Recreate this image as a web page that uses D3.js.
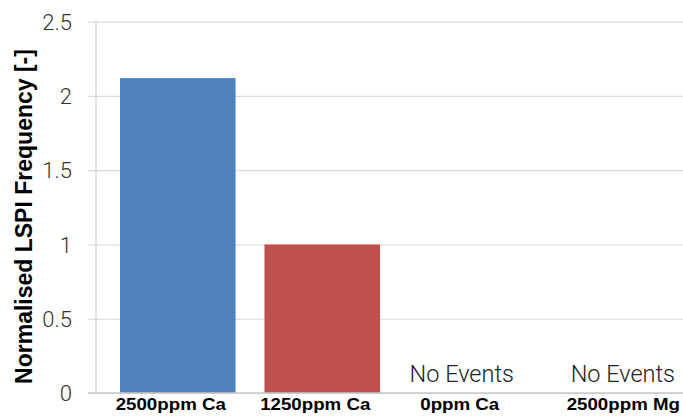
<!DOCTYPE html>
<html>
<head>
<meta charset="utf-8">
<script src="https://cdn.jsdelivr.net/npm/d3@7"></script>
<style>
  html, body { margin: 0; padding: 0; background: #fff; }
  svg { display: block; }
</style>
</head>
<body>
<svg id="chart" width="683" height="416"></svg>
<script>
const categories = ["2500ppm Ca", "1250ppm Ca", "0ppm Ca", "2500ppm Mg"];
const values = [2.12, 1.0, null, null];
const barColors = ["#4f81bd", "#c0504d", "#9bbb59", "#8064a2"];
const noEventLabel = "No Events";
const yTicks = [0, 0.5, 1, 1.5, 2, 2.5];
const yTitle = "Normalised LSPI Frequency [-]";

(function () {
const W = 683, H = 416;
const mLeft = 96, mTop = 21.7, mBottom = 393;
const svg = d3.select("#chart");
const last = categories[categories.length - 1];

const y = d3.scaleLinear().domain([0, 2.5]).range([mBottom, mTop]);
const x = d3.scaleBand().domain(categories)
  .range([mLeft, 693]).paddingInner(0.2).paddingOuter(0.166);

// gridlines + tick marks
const yAxis = d3.axisLeft(y).tickValues(yTicks)
  .tickSize(-(W - mLeft) - 1).tickPadding(16)
  .tickFormat(d => d3.format("")(d));
const gy = svg.append("g").attr("transform", `translate(${mLeft},0)`).call(yAxis);
gy.select(".domain").remove();
gy.selectAll(".tick line").attr("stroke", "#d9d9d9").attr("stroke-width", 1.2).attr("x1", -8);
gy.selectAll(".tick text")
  .attr("fill", "#333").attr("font-family", "Roboto, 'Liberation Sans', sans-serif")
  .attr("font-weight", 300).attr("font-size", 22).attr("x", -24).attr("dy", "0.35em");

// vertical axis line
svg.append("line").attr("x1", mLeft).attr("x2", mLeft).attr("y1", mTop).attr("y2", mBottom)
  .attr("stroke", "#d0d0d0").attr("stroke-width", 1.2);

// bars
svg.append("g").selectAll("rect")
  .data(categories.map((c, i) => ({c, v: values[i], i})).filter(d => d.v != null))
  .join("rect")
  .attr("x", d => x(d.c)).attr("width", x.bandwidth())
  .attr("y", d => y(d.v)).attr("height", d => y(0) - y(d.v))
  .attr("fill", d => barColors[d.i]);

// baseline axis
svg.append("line").attr("x1", mLeft - 8).attr("x2", W).attr("y1", y(0)).attr("y2", y(0))
  .attr("stroke", "#c8c8c8").attr("stroke-width", 1.4);

// "No Events" labels (last one flush to the right edge)
svg.append("g").selectAll("text")
  .data(categories.filter((c, i) => values[i] == null))
  .join("text")
  .attr("font-family", "Roboto, 'Liberation Sans', sans-serif")
  .attr("font-weight", 300).attr("font-size", 23.5).attr("fill", "#222")
  .attr("y", y(0) - 11)
  .attr("text-anchor", c => c === last ? "end" : "middle")
  .attr("x", c => c === last ? W - 8 : x(c) + x.bandwidth() / 2 - 5)
  .text(noEventLabel);

// category labels (last one flush to the right edge)
const sx = 1.17;
svg.append("g").selectAll("text")
  .data(categories).join("text")
  .attr("font-family", "'Liberation Sans', Arial, sans-serif")
  .attr("font-weight", "bold").attr("font-size", 16).attr("fill", "#000")
  .attr("text-anchor", c => c === last ? "end" : "middle")
  .attr("transform", c => {
    const cx = c === last ? W - 3 : x(c) + x.bandwidth() / 2 - 7;
    return `translate(${cx},410) scale(${sx},1)`;
  })
  .text(d => d);

// y-axis title
svg.append("text")
  .attr("transform", `translate(32,${(48 + 385) / 2}) rotate(-90)`)
  .attr("text-anchor", "middle")
  .attr("font-family", "'Liberation Sans', Arial, sans-serif")
  .attr("font-weight", "bold").attr("font-size", 23).attr("fill", "#000")
  .text(yTitle);
})();
</script>
</body>
</html>
